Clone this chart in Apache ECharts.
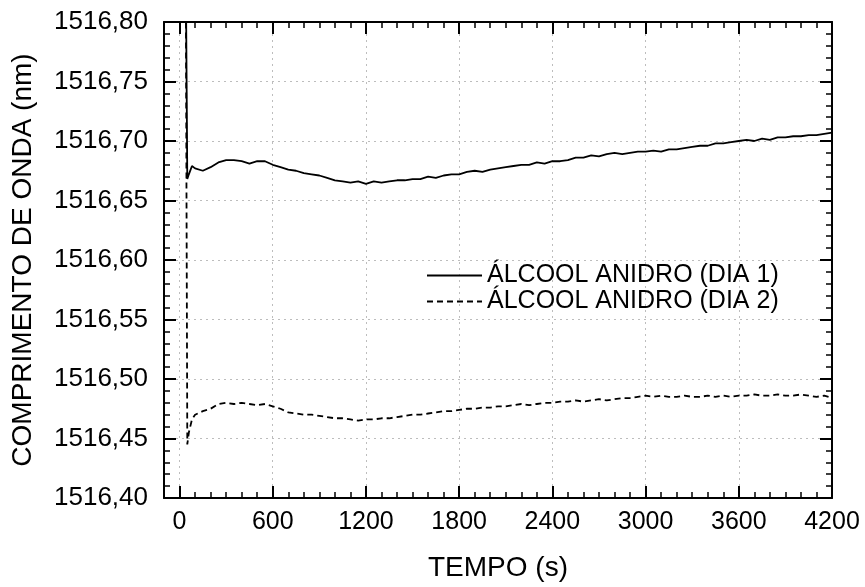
<!DOCTYPE html>
<html>
<head>
<meta charset="utf-8">
<script src="https://cdn.jsdelivr.net/npm/echarts@6/dist/echarts.min.js"></script>
<style>
  html, body { margin: 0; padding: 0; background: #fff; }
  #chart { width: 865px; height: 587px; }
</style>
</head>
<body>
<div id="chart"></div>
<script>
// tempo (s)
const timeS = [
  40, 50, 60, 80, 100,
  150, 200, 250, 300, 350, 400, 450, 500, 550, 600,
  650, 700, 750, 800, 850, 900, 950, 1000, 1050, 1100,
  1150, 1200, 1250, 1300, 1350, 1400, 1450, 1500, 1550, 1600,
  1650, 1700, 1750, 1800, 1850, 1900, 1950, 2000, 2050, 2100,
  2150, 2200, 2250, 2300, 2350, 2400, 2450, 2500, 2550, 2600,
  2650, 2700, 2750, 2800, 2850, 2900, 2950, 3000, 3050, 3100,
  3150, 3200, 3250, 3300, 3350, 3400, 3450, 3500, 3550, 3600,
  3650, 3700, 3750, 3800, 3850, 3900, 3950, 4000, 4050, 4100,
  4150, 4200
]

// comprimento de onda (nm) - dia 1
const dia1 = [
  1516.85, 1516.668, 1516.672, 1516.679, 1516.677,
  1516.675, 1516.678, 1516.682, 1516.684, 1516.684, 1516.683, 1516.681, 1516.683, 1516.683, 1516.680,
  1516.678, 1516.676, 1516.675, 1516.673, 1516.672, 1516.671, 1516.669, 1516.667, 1516.666, 1516.665,
  1516.666, 1516.664, 1516.666, 1516.665, 1516.666, 1516.667, 1516.667, 1516.668, 1516.668, 1516.670,
  1516.669, 1516.671, 1516.672, 1516.672, 1516.674, 1516.675, 1516.674, 1516.676, 1516.677, 1516.678,
  1516.679, 1516.680, 1516.680, 1516.682, 1516.681, 1516.683, 1516.683, 1516.684, 1516.686, 1516.686,
  1516.688, 1516.687, 1516.689, 1516.690, 1516.689, 1516.690, 1516.691, 1516.691, 1516.692, 1516.691,
  1516.693, 1516.693, 1516.694, 1516.695, 1516.696, 1516.696, 1516.698, 1516.698, 1516.699, 1516.700,
  1516.701, 1516.700, 1516.702, 1516.701, 1516.703, 1516.703, 1516.704, 1516.704, 1516.705, 1516.705,
  1516.706, 1516.707
]

// comprimento de onda (nm) - dia 2
const dia2 = [
  1516.85, 1516.445, 1516.455, 1516.466, 1516.470,
  1516.473, 1516.475, 1516.479, 1516.480, 1516.479, 1516.480, 1516.479, 1516.478, 1516.479, 1516.477,
  1516.475, 1516.472, 1516.471, 1516.470, 1516.470, 1516.469, 1516.468, 1516.467, 1516.467, 1516.466,
  1516.465, 1516.466, 1516.466, 1516.467, 1516.467, 1516.468, 1516.469, 1516.470, 1516.470, 1516.471,
  1516.472, 1516.473, 1516.473, 1516.474, 1516.475, 1516.475, 1516.476, 1516.476, 1516.477, 1516.477,
  1516.478, 1516.479, 1516.478, 1516.479, 1516.480, 1516.480, 1516.481, 1516.481, 1516.482, 1516.481,
  1516.482, 1516.483, 1516.482, 1516.483, 1516.484, 1516.484, 1516.485, 1516.486, 1516.485, 1516.486,
  1516.485, 1516.485, 1516.486, 1516.485, 1516.485, 1516.486, 1516.485, 1516.486, 1516.485, 1516.486,
  1516.486, 1516.487, 1516.486, 1516.486, 1516.487, 1516.486, 1516.486, 1516.487, 1516.486, 1516.485,
  1516.486, 1516.484
]

const xTicks = [0, 600, 1200, 1800, 2400, 3000, 3600, 4200]
const seriesNames = ['ÁLCOOL ANIDRO (DIA 1)', 'ÁLCOOL ANIDRO (DIA 2)']

const FONT = '"Liberation Sans", Arial, sans-serif'
const X_MIN = -100
const X_MAX = 4200

const chart = echarts.init(document.getElementById('chart'))

const gridLine = {
  show: true,
  lineStyle: { color: '#bdbdbd', width: 1, type: [2, 4] }
}

const majorX = (pos, withLabel) => ({
  type: 'value',
  position: pos,
  min: X_MIN,
  max: X_MAX,
  name: withLabel ? 'TEMPO (s)' : '',
  nameLocation: 'middle',
  nameGap: 56,
  nameTextStyle: { fontSize: 28, color: '#000', fontFamily: FONT },
  axisLine: { show: true, onZero: false, lineStyle: { color: '#000', width: 2 } },
  axisTick: { show: true, inside: true, length: 12, customValues: xTicks, lineStyle: { color: '#000', width: 2 } },
  axisLabel: {
    show: withLabel,
    customValues: xTicks,
    fontSize: 25,
    color: '#000',
    fontFamily: FONT,
    margin: 12,
    formatter: (v) => String(v)
  },
  splitLine: withLabel ? gridLine : { show: false }
})

const minorX = (pos) => ({
  type: 'value',
  position: pos,
  min: X_MIN,
  max: X_MAX,
  interval: 100,
  axisLine: { show: false, onZero: false },
  axisTick: { show: true, inside: true, length: 6, lineStyle: { color: '#000', width: 1.5 } },
  axisLabel: { show: false },
  splitLine: { show: false }
})

const yAxisDef = (pos, withLabel) => ({
  type: 'value',
  position: pos,
  min: 1516.40,
  max: 1516.80,
  interval: 0.05,
  name: withLabel ? 'COMPRIMENTO DE ONDA (nm)' : '',
  nameLocation: 'middle',
  nameGap: 127,
  nameTextStyle: { fontSize: 28, color: '#000', fontFamily: FONT },
  axisLine: { show: true, onZero: false, lineStyle: { color: '#000', width: 2 } },
  axisTick: { show: true, inside: true, length: 12, lineStyle: { color: '#000', width: 2 } },
  minorTick: { show: true, splitNumber: 5, length: 6, lineStyle: { color: '#000', width: 1.5 } },
  axisLabel: {
    show: withLabel,
    fontSize: 26,
    color: '#000',
    fontFamily: FONT,
    margin: 16,
    formatter: (v) => v.toFixed(2).replace('.', ',')
  },
  splitLine: withLabel ? gridLine : { show: false },
  minorSplitLine: { show: false }
})

chart.setOption({
  animation: false,
  backgroundColor: '#fff',
  grid: { left: 164, right: 33, top: 22, bottom: 88 },
  legend: {
    orient: 'vertical',
    left: 421,
    top: 258,
    itemWidth: 55,
    itemHeight: 14,
    itemGap: 1,
    itemStyle: { opacity: 0 },
    textStyle: { fontSize: 25, color: '#000', fontFamily: FONT },
    data: seriesNames
  },
  xAxis: [majorX('bottom', true), minorX('bottom'), majorX('top', false), minorX('top')],
  yAxis: [yAxisDef('left', true), yAxisDef('right', false)],
  series: [
    {
      name: seriesNames[0],
      type: 'line',
      xAxisIndex: 0,
      yAxisIndex: 0,
      symbol: 'none',
      data: timeS.map((t, i) => [t, dia1[i]]),
      lineStyle: { color: '#000', width: 1.8, type: 'solid' },
      itemStyle: { color: '#000' }
    },
    {
      name: seriesNames[1],
      type: 'line',
      xAxisIndex: 0,
      yAxisIndex: 0,
      symbol: 'none',
      data: timeS.map((t, i) => [t, dia2[i]]),
      lineStyle: { color: '#000', width: 1.8, type: [6, 4] },
      itemStyle: { color: '#000' }
    }
  ]
})
</script>
</body>
</html>
